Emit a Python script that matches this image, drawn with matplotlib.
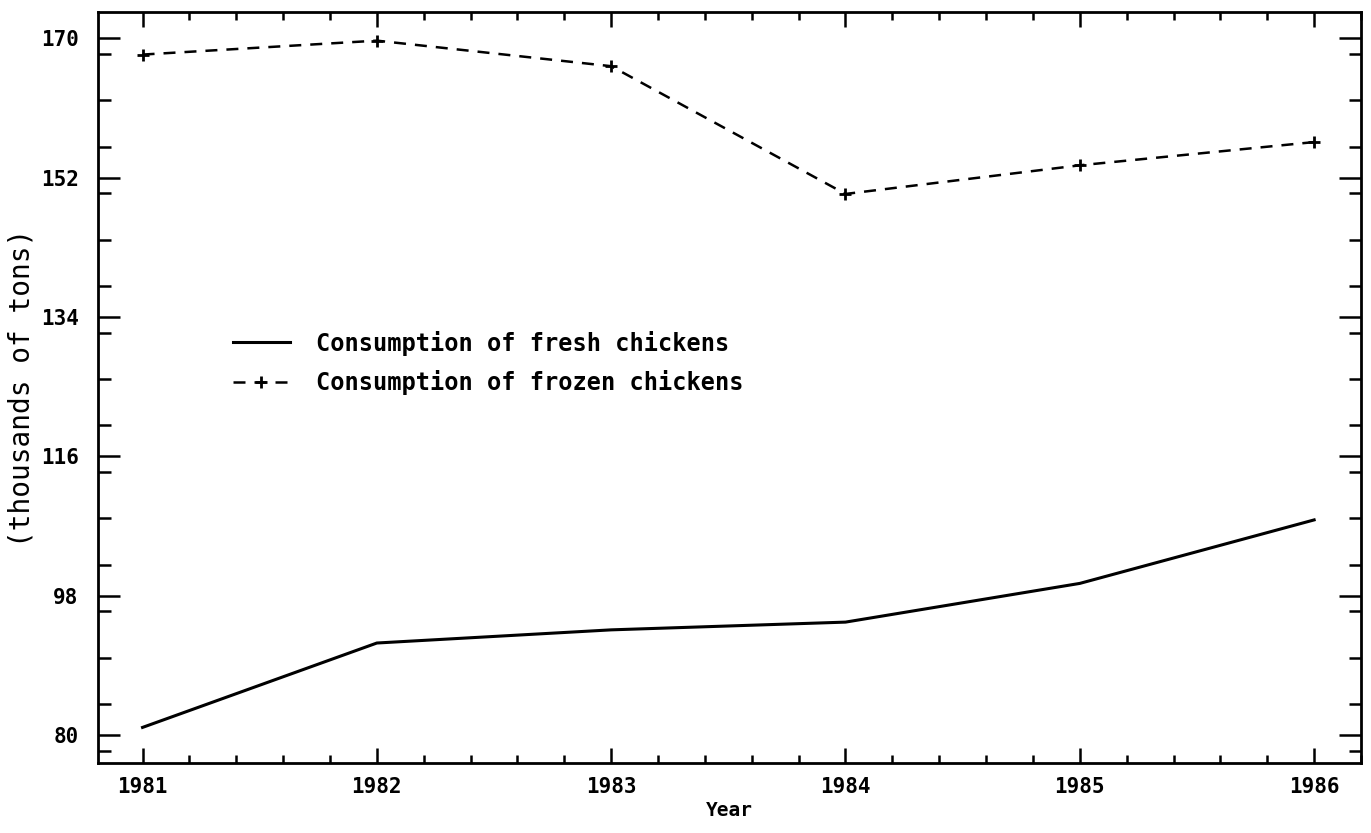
import matplotlib.pyplot as plt
from matplotlib.ticker import MultipleLocator

# data
years = [1981, 1982, 1983, 1984, 1985, 1986]
fresh = [81.0, 91.9, 93.6, 94.6, 99.6, 107.8]
frozen = [167.9, 169.7, 166.4, 149.9, 153.6, 156.6]
yticks = [80, 98, 116, 134, 152, 170]

MONO = "DejaVu Sans Mono"

fig = plt.figure(figsize=(13.71, 8.33), dpi=100)
ax = fig.add_axes([0.0715, 0.084, 0.9212, 0.9016])

ax.plot(years, fresh, color="black", linewidth=2.2,
        label="Consumption of fresh chickens")
ax.plot(years, frozen, color="black", linewidth=1.8, dashes=(4.8, 3.6),
        marker="+", markersize=8, markeredgewidth=2,
        label="Consumption of frozen chickens")

ax.set_xlim(1980.81, 1986.2)
ax.set_ylim(76.4, 173.4)
ax.set_xticks(years)
ax.set_yticks(yticks)
ax.xaxis.set_minor_locator(MultipleLocator(0.2))
ax.yaxis.set_minor_locator(MultipleLocator(6))

ax.tick_params(which="both", direction="in", top=True, right=True, width=1.8)
ax.tick_params(axis="y", which="major", length=16, pad=14)
ax.tick_params(axis="y", which="minor", length=9)
ax.tick_params(axis="x", which="major", length=11, pad=10)
ax.tick_params(axis="x", which="minor", length=6)

for lab in ax.get_xticklabels() + ax.get_yticklabels():
    lab.set_fontfamily(MONO)
    lab.set_fontweight("bold")
    lab.set_fontsize(15)

for sp in ax.spines.values():
    sp.set_linewidth(2)

ax.set_xlabel("Year", fontfamily=MONO, fontweight="bold", fontsize=14, labelpad=3)
ax.set_ylabel("(thousands of tons)", fontfamily=MONO, fontsize=20, labelpad=4)

leg = ax.legend(loc="upper left", bbox_to_anchor=(0.170, 0.603),
                bbox_transform=fig.transFigure, frameon=False,
                borderpad=0, borderaxespad=0, handlelength=2.4,
                handletextpad=1.1, labelspacing=0.62,
                prop={"family": MONO, "weight": "bold", "size": 17})

fig.savefig("out.png", dpi=100)
